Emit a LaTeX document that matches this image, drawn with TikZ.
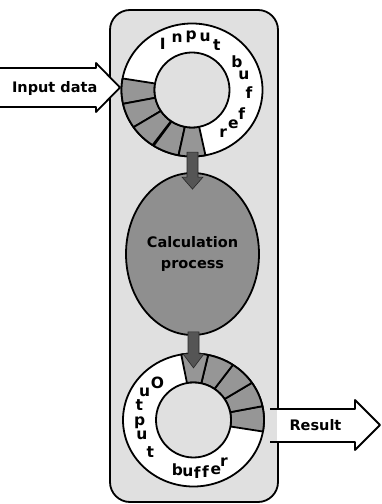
\documentclass[tikz,border=0pt]{standalone}
\usepackage{fontspec}
\setmainfont{DejaVu Sans}
\usetikzlibrary{calc,shapes.geometric}

\definecolor{boxgray}{RGB}{224,224,224}
\definecolor{slotgray}{RGB}{150,150,150}
\definecolor{procgray}{RGB}{143,143,143}
\definecolor{pipegray}{RGB}{85,85,85}

\tikzset{
	outline/.style={line width=1.8pt, line join=round},
	slot/.style={outline, fill=slotgray},
	letter/.style={font=\fontsize{15.5}{16}\bfseries\selectfont, inner sep=0pt},
	caption/.style={font=\fontsize{14.5}{21}\bfseries\selectfont, align=center, inner sep=0pt},
	procnode/.style={ellipse, draw, outline, fill=procgray, minimum width=133pt, minimum height=162pt,
		inner sep=0pt, font=\fontsize{14.5}{21}\bfseries\selectfont, align=center},
	pipe/.style={fill=pipegray, draw=black!85, line width=0.6pt},
}

% one filled slot of a ring buffer: centre, start angle, end angle
\def\ringslot(#1)(#2:#3){\filldraw[slot] ($(#1)+(#2:70.5 and 66.5)$)
	arc[start angle=#2, end angle=#3, x radius=70.5, y radius=66.5]
	-- ($(#1)+(#3:37.5)$) arc[start angle=#3, end angle=#2, radius=37.5] -- cycle;}

\begin{document}
\begin{tikzpicture}[x=1pt, y=1pt]
		\useasboundingbox (0,0) rectangle (381,504);
		
		%%%%% frame %%%%%
		\filldraw[outline, fill=boxgray, rounded corners=20pt] (110,2) rectangle (278,494);
		
		%%%%% input buffer %%%%%
		\coordinate (inbuf) at (192,414);
		\filldraw[outline, fill=white] (inbuf) ellipse [x radius=70.5, y radius=66.5];
		\foreach \a in {170,192,214,237,259}
			\ringslot(inbuf)(\a:\a+22);
		\filldraw[outline, fill=boxgray] (inbuf) circle [radius=37.5];
		\foreach \ch/\a/\r in {I/122/55, n/106/54, p/91/53, u/76/54, t/61/51,
			b/32/53, u/16/54, f/-3/57, f/-25/55, e/-40/54, r/-54/53}
			\node[letter] at ($(inbuf)+(\a:\r)$) {\ch};
		
		%%%%% calculation %%%%%
		\node[procnode] (proc) at (192.5,250) {Calculation\\process};
		
		%%%%% output buffer %%%%%
		\coordinate (outbuf) at (193.5,84);
		\filldraw[outline, fill=white] (outbuf) ellipse [x radius=70.5, y radius=66.5];
		\foreach \a in {-10,12,34,56,78}
			\ringslot(outbuf)(\a:\a+22);
		\filldraw[outline, fill=boxgray] (outbuf) circle [radius=37.5];
		\foreach \ch/\a/\r in {O/134/52, u/151/56, t/165/56, p/183/54, u/197/54, t/217/54,
			b/252/52, u/264/53, f/274/53, f/283/53, e/294/55, r/306/52}
			\node[letter] at ($(outbuf)+(\a:\r)$) {\ch};
		
		%%%%% pipes in and out of the process %%%%%
		\draw[pipe] ($(proc.north)+(-5.5,20)$) -- ++(11,0) -- ++(0,-25) -- ++(5,0)
			-- ++(-10.5,-12) -- ++(-10.5,12) -- ++(5,0) -- cycle;
		\draw[pipe] ($(proc.south)+(-4.5,4)$) -- ++(11,0) -- ++(0,-22) -- ++(5,0)
			-- ++(-10.5,-14) -- ++(-10.5,14) -- ++(5,0) -- cycle;
		
		%%%%% input data %%%%%
		\fill[white] (0,436) -- (96,436) -- (96,441) -- (120,416.5) -- (96,392) -- (96,397) -- (0,397) -- cycle;
		\draw[outline] (0,436) -- (96,436) -- (96,441) -- (120,416.5) -- (96,392) -- (96,397) -- (0,397);
		\node[caption] (indata) at (54.7,415) {Input data};
		
		%%%%% result %%%%%
		\fill[white] (277,95) -- (355,95) -- (355,104) -- (380,79) -- (355,54) -- (355,62) -- (277,62) -- cycle;
		\draw[outline] (270,95) -- (355,95) -- (355,104) -- (380,79) -- (355,54) -- (355,62) -- (270,62);
		\node[caption] (result) at (315.5,79) {Result};
		
	\end{tikzpicture}
\end{document}
